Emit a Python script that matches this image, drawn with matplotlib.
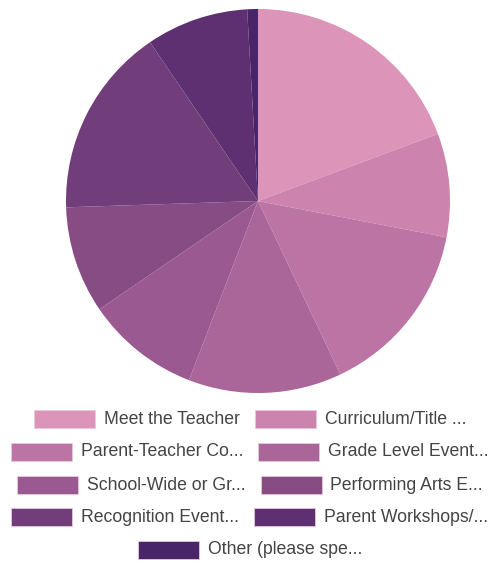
import matplotlib.pyplot as plt
from matplotlib.patches import Rectangle

# categorias e valores (percentagens)
categorias = ["Meet the Teacher", "Curriculum/Title ...", "Parent-Teacher Co...",
              "Grade Level Event...", "School-Wide or Gr...", "Performing Arts E...",
              "Recognition Event...", "Parent Workshops/...", "Other (please spe..."]
valores = [19.3, 8.7, 14.9, 12.9, 9.6, 9.0, 16.0, 8.6, 0.9]
cores = ["#DC94B8", "#CC84AE", "#BC74A4", "#AA6699", "#9A5A91",
         "#884C85", "#713D7B", "#5E3071", "#4A2468"]

plt.rcParams['font.family'] = ['Liberation Sans', 'DejaVu Sans']

W, H = 492, 565
fig = plt.figure(figsize=(W / 100, H / 100), dpi=100)

# pie
cx, cy, r = 258, 201, 192
ax = fig.add_axes([(cx - r) / W, (H - cy - r) / H, 2 * r / W, 2 * r / H])
ax.pie(valores, colors=cores, startangle=90, counterclock=False, radius=1,
       wedgeprops=dict(linewidth=0))
ax.set_xlim(-1, 1)
ax.set_ylim(-1, 1)
ax.set_aspect("equal")
ax.axis("off")

# legenda: linhas centradas, 2 itens por linha
linhas = [[0, 1], [2, 3], [4, 5], [6, 7], [8]]
ys = [419, 452, 485, 517, 550]
sw, sh = 61, 18
gap_txt, gap_item = 9, 15
centro = 250
fs = 12.7

renderer = fig.canvas.get_renderer()
for linha, y in zip(linhas, ys):
    larguras = []
    for i in linha:
        t = fig.text(0, 0, categorias[i], fontsize=fs)
        larguras.append(t.get_window_extent(renderer).width)
        t.remove()
    total = sum(sw + gap_txt + w for w in larguras) + gap_item * (len(linha) - 1)
    x = centro - total / 2
    for i, w in zip(linha, larguras):
        fig.patches.append(Rectangle((x / W, (H - y - sh / 2) / H), sw / W, sh / H,
                                     transform=fig.transFigure, facecolor=cores[i],
                                     edgecolor="#e8c8dc", linewidth=0.6))
        fig.text((x + sw + gap_txt) / W, (H - y) / H, categorias[i], fontsize=fs,
                 color="#444444", va="center", ha="left")
        x += sw + gap_txt + w + gap_item

fig.savefig("out.png", dpi=100)
